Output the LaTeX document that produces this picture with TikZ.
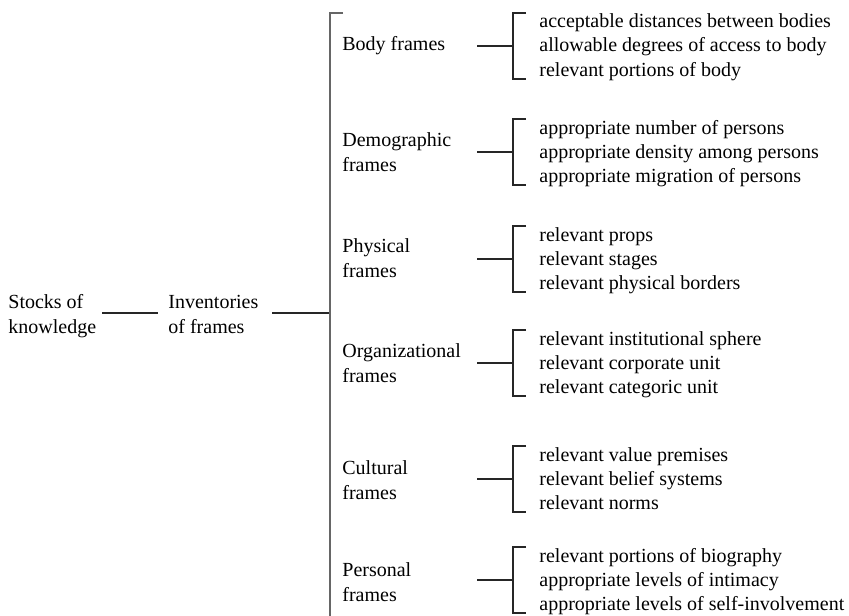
\documentclass[tikz,border=0pt]{standalone}
\usepackage{fontspec}
\setmainfont{Liberation Serif}
\begin{document}
\begin{tikzpicture}[x=0.5pt,y=-0.5pt,
  txt/.style={anchor=base west, inner sep=0pt, font=\fontsize{10}{12}\selectfont},
  rule/.style={draw=black!85, line width=0.55pt},
  spine/.style={draw=black!60, line width=0.8pt}]
\useasboundingbox (0,0) rectangle (849,615);

% a frame family: bracket of three items and its connector
% #1 name, #2 top of the bracket, #3-#5 the items
\newcommand\framegroup[5]{%
  \node[txt] (#1-i1) at (539,{#2+15}) {#3};
  \node[txt] (#1-i2) at (539,{#2+39}) {#4};
  \node[txt] (#1-i3) at (539,{#2+63}) {#5};
  \coordinate (#1-tt) at (526,#2);
  \coordinate (#1-tb) at (513,#2);
  \coordinate (#1-bb) at (513,{#2+66});
  \coordinate (#1-bt) at (526,{#2+66});
  \coordinate (#1-c)  at (477,{#2+33});
  \coordinate (#1-m)  at (513,{#2+33});
  \draw[rule] (#1-tt) -- (#1-tb) -- (#1-bb) -- (#1-bt);
  \draw[rule] (#1-c) -- (#1-m);
}

% root and second level
\node[txt] (stocks1) at (8,308) {Stocks of};
\node[txt] (stocks2) at (8,333) {knowledge};
\node[txt] (inv1) at (168,308) {Inventories};
\node[txt] (inv2) at (168,333) {of frames};
\coordinate (l1a) at (102,313);
\coordinate (l1b) at (158,313);
\coordinate (l2a) at (272,313);
\coordinate (spinemid) at (330,313);
\draw[rule] (l1a) -- (l1b);
\draw[rule] (l2a) -- (spinemid);

% main bracket
\coordinate (spinetick) at (343,13);
\coordinate (spinetop) at (330,13);
\coordinate (spinebot) at (330,620);
\draw[spine] (spinetick) -- (spinetop) -- (spinebot);

% family labels
\node[txt] (body-l1) at (342,51) {Body frames};
\node[txt] (demo-l1) at (342,146) {Demographic};
\node[txt] (demo-l2) at (342,171) {frames};
\node[txt] (phys-l1) at (342,252) {Physical};
\node[txt] (phys-l2) at (342,277) {frames};
\node[txt] (org-l1) at (342,357) {Organizational};
\node[txt] (org-l2) at (342,382) {frames};
\node[txt] (cult-l1) at (342,474) {Cultural};
\node[txt] (cult-l2) at (342,499) {frames};
\node[txt] (pers-l1) at (342,576) {Personal};
\node[txt] (pers-l2) at (342,601) {frames};

% items of each family
\framegroup{body}{13}{acceptable distances between bodies}{allowable degrees of access to body}{relevant portions of body}
\framegroup{demo}{119}{appropriate number of persons}{appropriate density among persons}{appropriate migration of persons}
\framegroup{phys}{226}{relevant props}{relevant stages}{relevant physical borders}
\framegroup{org}{330}{relevant institutional sphere}{relevant corporate unit}{relevant categoric unit}
\framegroup{cult}{446}{relevant value premises}{relevant belief systems}{relevant norms}
\framegroup{pers}{547}{relevant portions of biography}{appropriate levels of intimacy}{appropriate levels of self-involvement}
\end{tikzpicture}
\end{document}
